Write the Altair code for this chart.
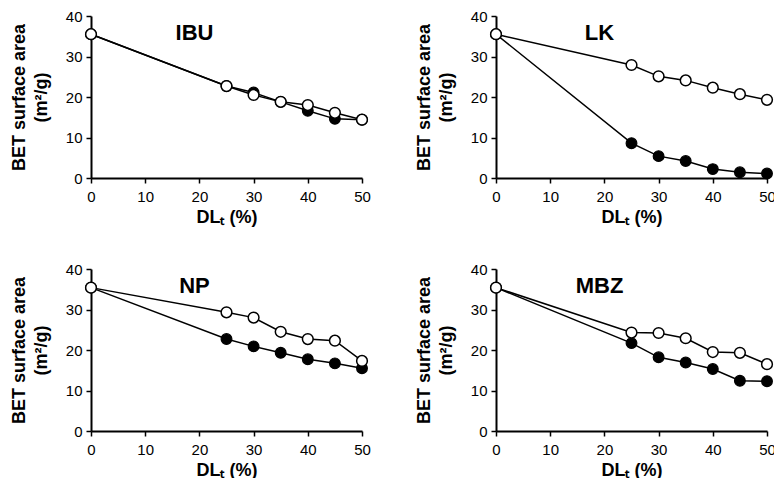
import altair as alt
import pandas as pd

dl = [0, 25, 30, 35, 40, 45, 50]

ibu_open = [35.5, 22.7, 20.5, 18.8, 18.0, 16.1, 14.4]
ibu_filled = [35.5, 22.7, 21.1, 18.8, 16.6, 14.6, 14.4]
lk_open = [35.5, 27.9, 25.1, 24.1, 22.3, 20.7, 19.3]
lk_filled = [35.5, 8.6, 5.4, 4.2, 2.2, 1.4, 1.1]
np_open = [35.4, 29.3, 28.0, 24.5, 22.7, 22.3, 17.3]
np_filled = [35.4, 22.7, 20.9, 19.3, 17.7, 16.7, 15.5]
mbz_open = [35.4, 24.3, 24.2, 22.9, 19.5, 19.3, 16.5]
mbz_filled = [35.4, 21.7, 18.2, 16.9, 15.3, 12.4, 12.3]

drugs = ["IBU", "LK", "NP", "MBZ"]
series = {
    "IBU": (ibu_open, ibu_filled),
    "LK": (lk_open, lk_filled),
    "NP": (np_open, np_filled),
    "MBZ": (mbz_open, mbz_filled),
}

rows = []
for d in drugs:
    o, f = series[d]
    for x, v in zip(dl, f):
        rows.append({"drug": d, "DL": x, "BET": v, "series": "filled"})
    for x, v in zip(dl, o):
        rows.append({"drug": d, "DL": x, "BET": v, "series": "open"})
df = pd.DataFrame(rows)

FONT = "Liberation Sans"
PANEL_W = 271
PANEL_H = 162


def panel(name):
    base = alt.Chart(df).transform_filter(alt.datum.drug == name)
    x = alt.X(
        "DL:Q",
        scale=alt.Scale(domain=[0, 50], nice=False),
        axis=alt.Axis(values=[0, 10, 20, 30, 40, 50], title="DLₜ (%)"),
    )
    y = alt.Y(
        "BET:Q",
        scale=alt.Scale(domain=[0, 40], nice=False),
        axis=alt.Axis(values=[0, 10, 20, 30, 40], title=["BET surface area", "(m²/g)"]),
    )
    lines = base.mark_line(color="black", strokeWidth=1.5).encode(
        x=x, y=y, detail="series:N"
    )
    filled = (
        base.transform_filter(alt.datum.series == "filled")
        .mark_point(shape="circle", filled=True, fill="black", stroke="black",
                    strokeWidth=1.2, size=115, opacity=1)
        .encode(x=x, y=y)
    )
    opened = (
        base.transform_filter(alt.datum.series == "open")
        .mark_point(shape="circle", filled=True, fill="white", stroke="black",
                    strokeWidth=1.5, size=115, opacity=1)
        .encode(x=x, y=y)
    )
    return alt.layer(lines, filled, opened).properties(
        width=PANEL_W,
        height=PANEL_H,
        title=alt.Title(
            name, font=FONT, fontSize=22, fontWeight="bold", color="black",
            anchor="middle", frame="group", orient="top", baseline="middle",
            offset=0, dx=-32, dy=46,
        ),
    )


SVG_W = 766
SVG_H = 470
PAD_L = 83
PAD_T = 8

chart = (
    alt.concat(
        panel("IBU"), panel("LK"), panel("NP"), panel("MBZ"),
        columns=2, spacing={"row": 91, "column": 134}, bounds="flush",
    )
    .properties(
        autosize=alt.AutoSizeParams(type="none"),
        padding={"left": PAD_L, "top": PAD_T,
                 "right": SVG_W - PAD_L, "bottom": SVG_H - PAD_T},
    )
    .configure_view(stroke=None)
    .configure_axis(
        grid=False,
        labelFlush=False,
        domainColor="black",
        domainWidth=2,
        tickColor="black",
        tickWidth=1.5,
        tickSize=5,
        labelFont=FONT,
        labelFontSize=15,
        labelColor="black",
        labelPadding=4,
        titleFont=FONT,
        titleFontSize=18,
        titleFontWeight="bold",
        titleColor="black",
        titleLineHeight=22,
    )
    .configure_axisX(labelPadding=6, titlePadding=4)
    .configure_axisY(titlePadding=15)
)

chart.save("out.html", embed_options={"renderer": "svg", "actions": False})
